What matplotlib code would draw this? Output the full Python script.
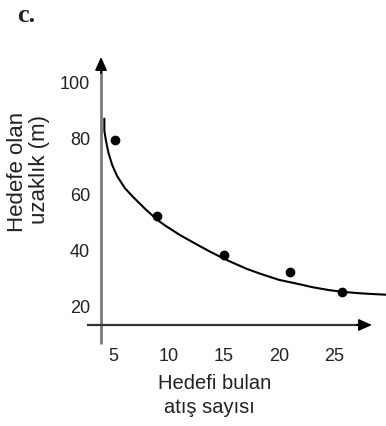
import numpy as np
import matplotlib
matplotlib.use('Agg')
from matplotlib import pyplot as plt

# measured points (hedefi bulan atis sayisi vs. hedefe olan uzaklik)
pt_x = [5.2, 9.0, 15.0, 21.0, 25.7]
pt_y = [79, 52, 38, 32, 25]

# trend curve
curve_x = [4.2, 4.2, 4.35, 4.55, 4.9, 5.35, 6.05, 6.8, 7.9, 9.0, 9.7, 11.0, 12.4,
           13.7, 15.0, 16.0, 17.1, 18.3, 20.0, 21.9, 23.0, 24.6, 25.6, 27.0, 28.2, 29.7]
curve_y = [86.7, 82.4, 78.8, 74.9, 70.3, 66.3, 62.0, 58.8, 54.5, 50.6, 48.6, 45.3, 42.2,
           39.4, 36.8, 35.0, 33.1, 31.4, 29.2, 27.6, 26.6, 25.5, 25.0, 24.5, 24.2, 23.9]

xticks = [5, 10, 15, 20, 25]
yticks = [20, 40, 60, 80, 100]

fig = plt.figure(figsize=(3.86, 4.27), dpi=100)
ax = fig.add_axes([87/386, 1 - 345/427, 299/386, 287/427])
ax.set_xlim(2.63, 29.67)
ax.set_ylim(6.3, 108.8)
for s in ax.spines.values():
    s.set_visible(False)

font = 'Liberation Sans'
ax.set_xticks(xticks)
ax.set_yticks(yticks)
ax.tick_params(axis='x', length=0, pad=2, labelsize=13, labelcolor='#222')
ax.tick_params(axis='y', length=0, pad=-2.2, labelsize=13, labelcolor='#222')
for lab in ax.get_xticklabels() + ax.get_yticklabels():
    lab.set_fontfamily(font)

# hand drawn axes with arrows
y0 = 13.1   # where the x axis sits
x0 = 3.9    # where the y axis sits
ax.plot([x0, x0], [6.3, 106], color='#7a7a7a', lw=2.0, clip_on=False, solid_capstyle='butt')
ax.plot([2.63, 27.5], [y0, y0], color='#333333', lw=1.6, clip_on=False, solid_capstyle='butt')
head = dict(arrowstyle='-|>,head_length=0.8,head_width=0.36', color='black', lw=1.2,
            shrinkA=0, shrinkB=0)
ax.annotate('', xy=(x0, 108.8), xytext=(x0, 103), arrowprops=head, annotation_clip=False)
ax.annotate('', xy=(28.4, y0), xytext=(27.0, y0), arrowprops=head, annotation_clip=False)

ax.plot(curve_x, curve_y, color='black', lw=1.5, clip_on=False, solid_joinstyle='round')
ax.plot(pt_x, pt_y, 'o', color='black', markersize=6, clip_on=False)

# axis titles
fig.text(18/386, 1 - 172/427, 'Hedefe olan', rotation=90, ha='center', va='center',
         fontsize=16, family=font, color='#222')
fig.text(40/386, 1 - 169/427, 'uzaklık (m)', rotation=90, ha='center', va='center',
         fontsize=16, family=font, color='#222')
fig.text(215/386, 1 - 384/427, 'Hedefi bulan', ha='center', va='center',
         fontsize=14.5, family=font, color='#222')
fig.text(209/386, 1 - 408/427, 'atış sayısı', ha='center', va='center',
         fontsize=14.5, family=font, color='#222')
fig.text(17/386, 1 - 15/427, 'c.', ha='left', va='center', fontsize=19,
         family='Liberation Serif', fontweight='bold', color='#222')

fig.savefig('out.png', dpi=100)
